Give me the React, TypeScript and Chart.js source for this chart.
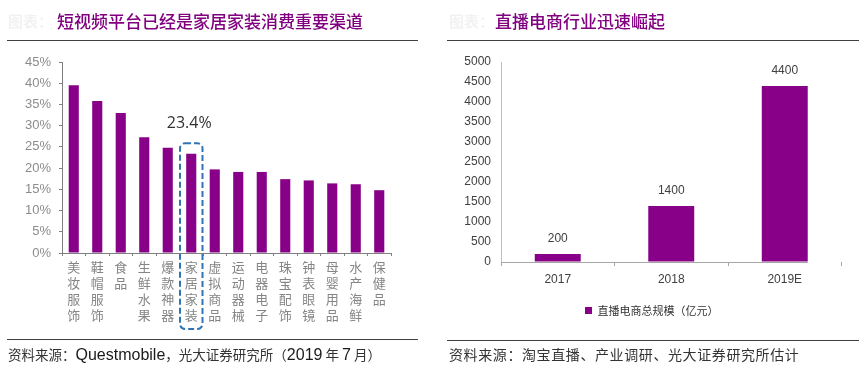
import React, { useEffect, useRef } from 'react';
import { Chart, registerables } from 'chart.js';

Chart.register(...registerables);

// ---------- data ----------
const figurePrefix = '图表：';
const leftTitle = '短视频平台已经是家居家装消费重要渠道';
const rightTitle = '直播电商行业迅速崛起';

const leftCategories = ['美妆服饰', '鞋帽服饰', '食品', '生鲜水果', '爆款神器', '家居家装', '虚拟商品', '运动器械', '电器电子', '珠宝配饰', '钟表眼镜', '母婴用品', '水产海鲜', '保健品'];
const leftValues = [39.5, 35.8, 33.0, 27.3, 24.8, 23.4, 19.7, 19.1, 19.1, 17.4, 17.1, 16.4, 16.2, 14.8];
const leftHighlightIndex = 5;
const leftHighlightLabel = '23.4%';
const leftYMax = 45;
const leftYStep = 5;
const leftTickSuffix = '%';

const rightCategories = ['2017', '2018', '2019E'];
const rightValues = [200, 1400, 4400];
const rightSeriesName = '直播电商总规模（亿元）';
const rightYMax = 5000;
const rightYStep = 500;

const PURPLE = '#880088';
const CJK = '"Noto Sans CJK SC", sans-serif';
const LAT = '"Liberation Sans", Arial, sans-serif';

const leftHighlightPlugin = {
  id: 'leftHighlight',
  afterDatasetsDraw(chart: any) {
    const { ctx, chartArea, scales } = chart;
    const x = scales.x;
    const y = scales.y;
    const cx = x.getPixelForValue(leftHighlightIndex);
    const half = (x.getPixelForValue(1) - x.getPixelForValue(0)) / 2 - 0.5;
    const top = y.getPixelForValue(leftValues[leftHighlightIndex]) - 10.5;
    const bottom = chartArea.bottom + 76;
    ctx.save();
    ctx.setLineDash([6, 3]);
    ctx.lineWidth = 2;
    ctx.strokeStyle = '#2F74B5';
    ctx.beginPath();
    ctx.roundRect(cx - half, top, half * 2, bottom - top, 5);
    ctx.stroke();
    ctx.setLineDash([]);
    ctx.fillStyle = '#333333';
    ctx.font = '16px "Open Sans", sans-serif';
    ctx.textAlign = 'center';
    ctx.textBaseline = 'middle';
    ctx.fillText(leftHighlightLabel, cx - 2, top - 20);
    ctx.restore();
  },
};

const rightLabelsPlugin = {
  id: 'rightLabels',
  afterDatasetsDraw(chart: any) {
    const { ctx, chartArea } = chart;
    const meta = chart.getDatasetMeta(0);
    ctx.save();
    ctx.fillStyle = '#404040';
    ctx.font = `12px ${LAT}`;
    ctx.textAlign = 'center';
    ctx.textBaseline = 'middle';
    meta.data.forEach((bar: any, i: number) => {
      ctx.fillText(String(rightValues[i]), bar.x, bar.y - 15);
    });
    // x axis line ends at the last bar's right edge
    const last: any = meta.data[meta.data.length - 1];
    ctx.strokeStyle = '#a6a6a6';
    ctx.lineWidth = 1;
    ctx.beginPath();
    ctx.moveTo(chartArea.left, Math.round(chartArea.bottom) + 0.5);
    ctx.lineTo(last.x + last.width / 2, Math.round(chartArea.bottom) + 0.5);
    ctx.stroke();
    ctx.restore();
  },
};

function LeftChart() {
  const ref = useRef<HTMLCanvasElement>(null);
  useEffect(() => {
    const chart = new Chart(ref.current as HTMLCanvasElement, {
      type: 'bar',
      data: {
        labels: leftCategories.map((c) => c.split('')),
        datasets: [
          {
            data: leftValues,
            backgroundColor: PURPLE,
            barPercentage: 0.43,
            categoryPercentage: 1,
          },
        ],
      },
      options: {
        animation: false,
        responsive: false,
        maintainAspectRatio: false,
        layout: { padding: { top: 62, right: 41, left: 0, bottom: 0 } },
        plugins: { legend: { display: false }, tooltip: { enabled: false } },
        scales: {
          x: {
            grid: { drawOnChartArea: false, tickLength: 3, color: '#808080' },
            border: { color: '#808080' },
            ticks: {
              autoSkip: false,
              maxRotation: 0,
              padding: 3,
              color: '#858585',
              font: { family: CJK, size: 13, lineHeight: '16px' },
            },
            afterFit: (s: any) => {
              s.height = 119;
            },
          },
          y: {
            min: 0,
            max: leftYMax,
            grid: { drawOnChartArea: false, tickLength: 3, color: '#808080' },
            border: { color: '#808080' },
            ticks: {
              stepSize: leftYStep,
              padding: 8,
              color: '#8c8c8c',
              font: { family: LAT, size: 13 },
              callback: (v: any) => `${v}${leftTickSuffix}`,
            },
            afterFit: (s: any) => {
              s.width = 62;
            },
          },
        },
      },
      plugins: [leftHighlightPlugin],
    } as any);
    return () => chart.destroy();
  }, []);
  return <canvas ref={ref} width={432} height={372} style={{ position: 'absolute', left: 0, top: 0, width: 432, height: 372 }} />;
}

function RightChart() {
  const ref = useRef<HTMLCanvasElement>(null);
  useEffect(() => {
    const chart = new Chart(ref.current as HTMLCanvasElement, {
      type: 'bar',
      data: {
        labels: rightCategories,
        datasets: [
          {
            label: rightSeriesName,
            data: rightValues,
            backgroundColor: PURPLE,
            barPercentage: 0.405,
            categoryPercentage: 1,
          },
        ],
      },
      options: {
        animation: false,
        responsive: false,
        maintainAspectRatio: false,
        layout: { padding: { top: 62, right: 22.5, left: 30, bottom: 46 } },
        plugins: {
          legend: {
            display: true,
            position: 'bottom',
            labels: {
              boxWidth: 7,
              boxHeight: 7,
              padding: 10,
              color: '#333333',
              font: { family: CJK, size: 11 },
            },
          },
          tooltip: { enabled: false },
        },
        scales: {
          x: {
            grid: {
              drawOnChartArea: false,
              tickLength: 4,
              color: (c: any) => (c.index === rightCategories.length ? 'rgba(0,0,0,0)' : '#a6a6a6'),
            },
            border: { display: false },
            ticks: {
              padding: 6,
              color: '#404040',
              font: { family: LAT, size: 12 },
            },
            afterFit: (s: any) => {
              s.height = 33;
            },
          },
          y: {
            min: 0,
            max: rightYMax,
            grid: { drawOnChartArea: false, drawTicks: false },
            border: { color: '#bfbfbf' },
            ticks: {
              stepSize: rightYStep,
              padding: 10,
              color: '#404040',
              font: { family: LAT, size: 12 },
              callback: (v: any) => String(v),
            },
            afterFit: (s: any) => {
              s.width = 39;
            },
          },
        },
      },
      plugins: [rightLabelsPlugin],
    } as any);
    return () => chart.destroy();
  }, []);
  return <canvas ref={ref} width={432} height={372} style={{ position: 'absolute', left: 432, top: 0, width: 432, height: 372 }} />;
}

const abs = (o: React.CSSProperties): React.CSSProperties => ({ position: 'absolute', whiteSpace: 'nowrap', ...o });

export default function App() {
  return (
    <div style={{ position: 'absolute', left: 0, top: 0, width: 864, height: 372, background: '#ffffff', overflow: 'hidden' }}>
      <LeftChart />
      <RightChart />
      {/* titles */}
      <div style={abs({ left: 8, top: 10, fontFamily: CJK, fontSize: 15, lineHeight: '22px', fontWeight: 700, color: '#f2f2f2' })}>{figurePrefix}</div>
      <div style={abs({ left: 57, top: 10, fontFamily: CJK, fontSize: 17, lineHeight: '22px', fontWeight: 500, color: '#800080' })}>{leftTitle}</div>
      <div style={abs({ left: 449, top: 10, fontFamily: CJK, fontSize: 15, lineHeight: '22px', fontWeight: 700, color: '#f2f2f2' })}>{figurePrefix}</div>
      <div style={abs({ left: 495, top: 10, fontFamily: CJK, fontSize: 17, lineHeight: '22px', fontWeight: 500, color: '#800080' })}>{rightTitle}</div>
      {/* rules */}
      <div style={abs({ left: 7, top: 40, width: 411, height: 1, background: '#404040' })} />
      <div style={abs({ left: 447, top: 40, width: 412, height: 1, background: '#404040' })} />
      <div style={abs({ left: 7, top: 339, width: 411, height: 1, background: '#404040' })} />
      <div style={abs({ left: 447, top: 340, width: 412, height: 1, background: '#404040' })} />
      {/* sources */}
      <div style={abs({ left: 8, top: 345, lineHeight: '18px', fontFamily: CJK, fontSize: 13.5, color: '#333333' })}>
        资料来源：<span style={{ fontFamily: LAT, fontSize: 16, color: '#1a1a1a' }}>Questmobile</span>，光大证券研究所（<span style={{ fontFamily: LAT, fontSize: 16, color: '#1a1a1a' }}>2019</span> 年 <span style={{ fontFamily: LAT, fontSize: 16, color: '#1a1a1a' }}>7</span> 月）
      </div>
      <div style={abs({ left: 449, top: 345, lineHeight: '18px', fontFamily: CJK, fontSize: 14, letterSpacing: '0.6px', color: '#333333' })}>
        资料来源：淘宝直播、产业调研、光大证券研究所估计
      </div>
    </div>
  );
}
